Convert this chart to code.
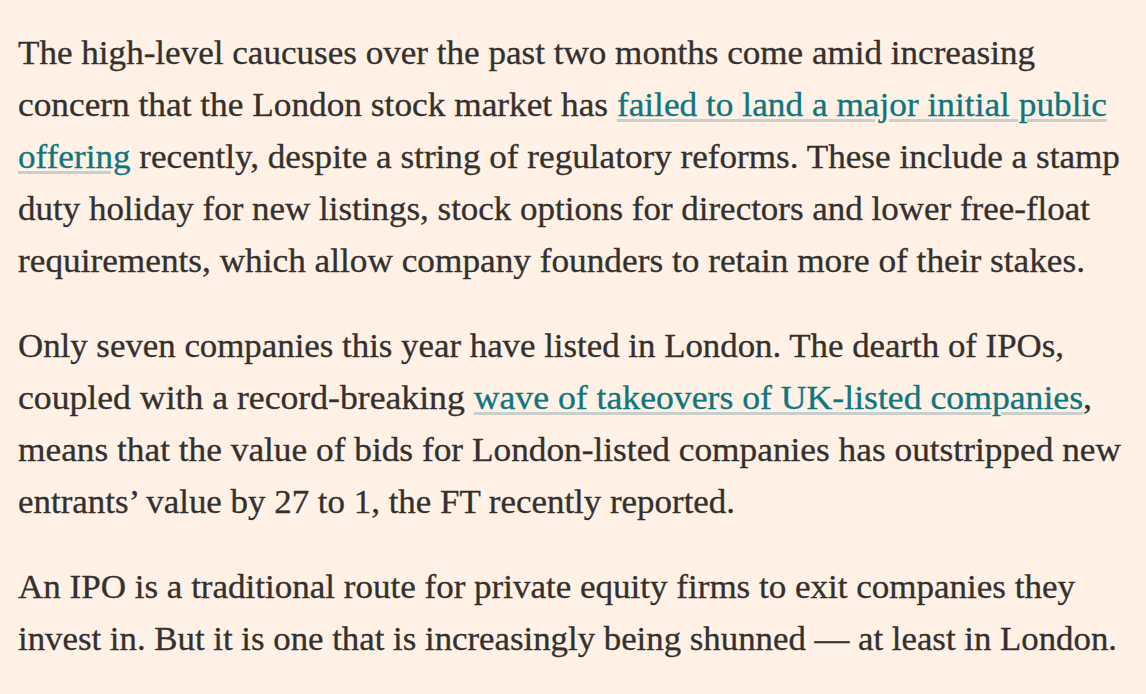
<!DOCTYPE html>
<html>
<head>
<meta charset="utf-8">
<script src="https://cdn.jsdelivr.net/npm/chart.js@4"></script>
<style>
  html, body { margin: 0; padding: 0; background: #fff1e5; }
  body { width: 1146px; height: 694px; overflow: hidden; }
  #article {
    position: absolute; left: 18px; top: 27px;
    font-family: "Liberation Serif", serif;
    font-size: 33px; line-height: 52px; color: #33302e;
    -webkit-text-stroke: 0.3px #33302e;
  }
  .para { margin: 0 0 33px 0; }
  .line { white-space: nowrap; transform-origin: 0 50%; }
  .line a {
    color: #0d7680; -webkit-text-stroke: 0.3px #0d7680;
    text-decoration: underline;
    text-decoration-color: #c9cfcb; text-decoration-thickness: 3px;
    text-underline-offset: 3px; text-decoration-skip-ink: auto;
  }
</style>
</head>
<body>
<div id="article"></div>
<script>
// text lines, as laid out in the source; [..] marks link text
const paragraph1 = [
  'The high-level caucuses over the past two months come amid increasing',
  'concern that the London stock market has [failed to land a major initial public]',
  '[offering] recently, despite a string of regulatory reforms. These include a stamp',
  'duty holiday for new listings, stock options for directors and lower free-float',
  'requirements, which allow company founders to retain more of their stakes.'
];
const paragraph2 = [
  'Only seven companies this year have listed in London. The dearth of IPOs,',
  'coupled with a record-breaking [wave of takeovers of UK-listed companies],',
  'means that the value of bids for London-listed companies has outstripped new',
  'entrants\u2019 value by 27 to 1, the FT recently reported.'
];
const paragraph3 = [
  'An IPO is a traditional route for private equity firms to exit companies they',
  'invest in. But it is one that is increasingly being shunned \u2014 at least in London.'
];

// right edge of each line in the reference (layout, px from left edge of page)
const lineRight = [
  [1035, 1107, 1120, 1090, 1085],
  [1064, 1092, 1121, 735],
  [1075, 1117]
];

const article = document.getElementById('article');
[paragraph1, paragraph2, paragraph3].forEach((lines, p) => {
  const para = document.createElement('div');
  para.className = 'para';
  lines.forEach((text, i) => {
    const line = document.createElement('div');
    line.className = 'line';
    text.split(/(\[[^\]]*\])/).forEach(part => {
      if (!part) return;
      if (part[0] === '[') {
        const a = document.createElement('a');
        a.href = '#';
        a.textContent = part.slice(1, -1);
        line.appendChild(a);
      } else {
        line.appendChild(document.createTextNode(part));
      }
    });
    para.appendChild(line);
  });
  article.appendChild(para);
});

// squeeze or stretch each line so it ends where the reference line ends
document.querySelectorAll('.para').forEach((para, p) => {
  para.querySelectorAll('.line').forEach((line, i) => {
    const r = document.createRange();
    r.selectNodeContents(line);
    const w = r.getBoundingClientRect().width;
    const target = lineRight[p][i] - 18;
    line.style.transform = 'scaleX(' + (target / w).toFixed(4) + ')';
  });
});
</script>
</body>
</html>
